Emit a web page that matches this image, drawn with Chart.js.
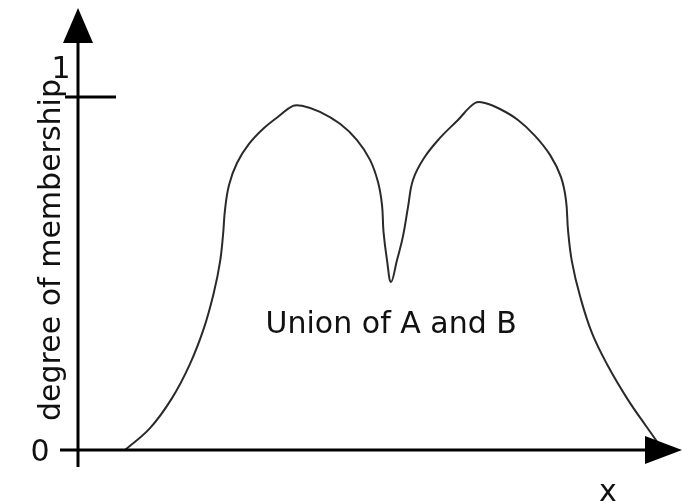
<!DOCTYPE html>
<html>
<head>
<meta charset="utf-8">
<script src="https://cdn.jsdelivr.net/npm/chart.js@4"></script>
<style>
  html, body { margin: 0; padding: 0; background: #fff; }
  #wrap { width: 683px; height: 502px; }
</style>
</head>
<body>
<div id="wrap"><canvas id="chart"></canvas></div>
<script>
// ── Fuzzy union membership curve ─────────────────────────

const xValues = [7.83, 12.0, 15.67, 18.67, 21.0, 22.67, 23.67, 24.17, 24.5, 25.17, 26.5, 28.5,
  31.0, 33.5, 35.83, 37.33, 40.33, 43.67, 46.5, 48.67, 50.0, 50.67, 50.92, 51.5, 52.17,
  53.17, 54.17, 55.0, 55.83, 57.67, 60.33, 63.33, 66.17, 67.83, 70.33, 73.33, 76.17,
  78.67, 80.5, 81.33, 81.67, 82.33, 83.67, 85.67, 88.33, 91.67, 94.67, 97.5];
const membership = [0, 0.062, 0.147, 0.244, 0.346, 0.448, 0.533, 0.609, 0.68, 0.751, 0.813, 0.867,
  0.912, 0.946, 0.975, 0.975, 0.958, 0.924, 0.878, 0.822, 0.759, 0.694, 0.618, 0.538, 0.476,
  0.538, 0.606, 0.688, 0.765, 0.827, 0.884, 0.935, 0.983, 0.983, 0.966, 0.935, 0.89,
  0.836, 0.773, 0.708, 0.623, 0.533, 0.436, 0.331, 0.238, 0.142, 0.068, 0];
const yTickLabels = ["0", "1"];
const axisTitleY = "degree of membership";
const axisTitleX = "x";
const curveLabel = "Union of A and B";

const FONT = "30px 'DejaVu Sans', Verdana, sans-serif";

const axesPlugin = {
  id: "axesPlugin",
  afterDraw(chart) {
    const { ctx } = chart;
    const xs = chart.scales.x;
    const ys = chart.scales.y;
    const ox = xs.getPixelForValue(0);
    const oy = ys.getPixelForValue(0);
    const oneY = ys.getPixelForValue(1);

    ctx.save();
    ctx.strokeStyle = "#000";
    ctx.fillStyle = "#000";
    ctx.lineWidth = 3;

    // y axis + arrow
    ctx.beginPath();
    ctx.moveTo(ox, oy + 17);
    ctx.lineTo(ox, 40);
    ctx.stroke();
    ctx.beginPath();
    ctx.moveTo(ox, 8);
    ctx.lineTo(ox - 15, 43);
    ctx.lineTo(ox + 15, 43);
    ctx.closePath();
    ctx.fill();

    // x axis + arrow
    ctx.beginPath();
    ctx.moveTo(ox - 18, oy);
    ctx.lineTo(650, oy);
    ctx.stroke();
    ctx.beginPath();
    ctx.moveTo(682, oy);
    ctx.lineTo(645, oy - 14);
    ctx.lineTo(645, oy + 14);
    ctx.closePath();
    ctx.fill();

    // tick at 1
    ctx.beginPath();
    ctx.moveTo(ox - 13, oneY);
    ctx.lineTo(ox + 38, oneY);
    ctx.stroke();

    ctx.font = FONT;
    ctx.fillStyle = "#111";
    ctx.textAlign = "center";
    ctx.textBaseline = "alphabetic";
    ctx.fillText(yTickLabels[0], 40, oy + 11);
    ctx.fillText(yTickLabels[1], 61, oneY - 19);
    ctx.fillText(axisTitleX, 608, 501);

    // curve label
    ctx.fillText(curveLabel, xs.getPixelForValue(52.2), ys.getPixelForValue(0.331));

    // y title
    ctx.translate(60, 250);
    ctx.rotate(-Math.PI / 2);
    ctx.fillText(axisTitleY, 0, 0);
    ctx.restore();
  },
};

new Chart(document.getElementById("chart"), {
  type: "line",
  data: {
    datasets: [{
      data: xValues.map((x, i) => ({ x, y: membership[i] })),
      borderColor: "#2a2a2a",
      borderWidth: 2,
      pointRadius: 0,
      tension: 0.4,
      fill: false,
      clip: false,
    }],
  },
  options: {
    responsive: true,
    maintainAspectRatio: false,
    animation: false,
    layout: { padding: { left: 78, right: 5, top: 97, bottom: 52 } },
    plugins: { legend: { display: false }, tooltip: { enabled: false } },
    scales: {
      x: { type: "linear", min: 0, max: 100, display: false },
      y: { min: 0, max: 1, display: false },
    },
  },
  plugins: [axesPlugin],
});
</script>
</body>
</html>
